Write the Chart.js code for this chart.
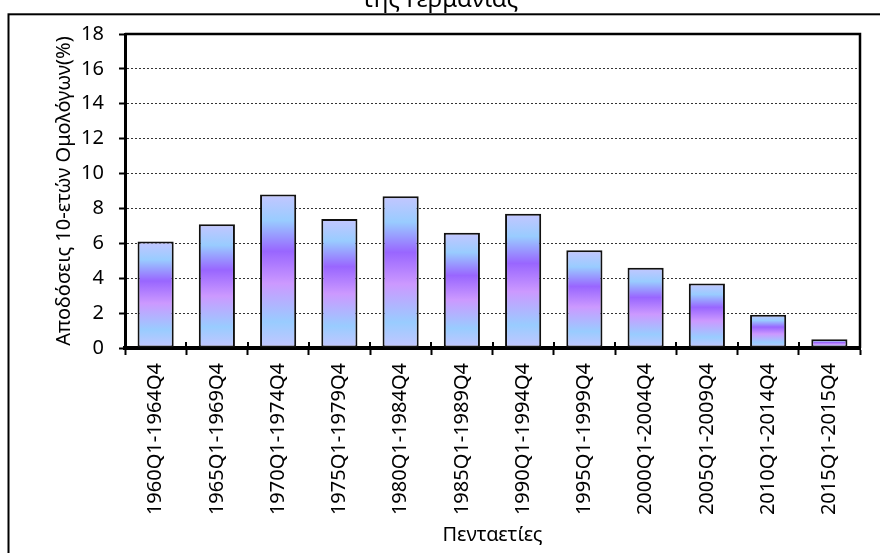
<!DOCTYPE html>
<html lang="el">
<head>
<meta charset="utf-8">
<title>Αποδόσεις 10-ετών Ομολόγων της Γερμανίας</title>
<script src="https://cdn.jsdelivr.net/npm/chart.js@4/dist/chart.umd.min.js"></script>
<style>
  html, body { margin: 0; padding: 0; background: #ffffff; }
  #wrap { width: 880px; height: 553px; }
</style>
</head>
<body>
<div id="wrap"><canvas id="chart" width="880" height="553"></canvas></div>
<script>
// Five-year periods and the average 10-year bond yield (%) for each
const periods = [
  '1960Q1-1964Q4', '1965Q1-1969Q4', '1970Q1-1974Q4', '1975Q1-1979Q4',
  '1980Q1-1984Q4', '1985Q1-1989Q4', '1990Q1-1994Q4', '1995Q1-1999Q4',
  '2000Q1-2004Q4', '2005Q1-2009Q4', '2010Q1-2014Q4', '2015Q1-2015Q4'
];
const yields = [6.1, 7.1, 8.8, 7.4, 8.7, 6.6, 7.7, 5.6, 4.6, 3.7, 1.9, 0.5];

// Value axis range
const yMin = 0;
const yMax = 18;
const yStep = 2;

// Text
const titleText = 'της Γερμανίας';
const xAxisTitle = 'Πενταετίες';
const yAxisTitle = 'Αποδόσεις 10-ετών Ομολόγων(%)';

const FONT = '"Noto Sans", "Open Sans", "DejaVu Sans", sans-serif';

// Vertical gradient for each bar, spanning from its top down to the baseline
function barGradient(context) {
  const chart = context.chart;
  const { ctx, chartArea, scales } = chart;
  if (!chartArea || context.type !== 'data') return '#9f8fff';
  const v = context.parsed ? context.parsed.y : yields[context.dataIndex];
  const yTop = scales.y.getPixelForValue(v);
  const yBase = scales.y.getPixelForValue(0);
  const g = ctx.createLinearGradient(0, yTop, 0, yBase);
  g.addColorStop(0.00, '#c4c6ff');
  g.addColorStop(0.17, '#99ccff');
  g.addColorStop(0.37, '#9966ff');
  g.addColorStop(0.58, '#cc99ff');
  g.addColorStop(0.83, '#99ccff');
  g.addColorStop(1.00, '#c4c6ff');
  return g;
}

// Page frame, title line, plot frame and the tick marks crossing the category axis
const framePlugin = {
  id: 'frame',
  beforeDraw(chart) {
    const { ctx } = chart;
    ctx.save();
    ctx.fillStyle = '#ffffff';
    ctx.fillRect(0, 0, chart.width, chart.height);
    ctx.strokeStyle = '#000000';
    ctx.lineWidth = 2;
    ctx.strokeRect(8.5, 14.3, chart.width + 20, chart.height + 20);
    ctx.fillStyle = '#000000';
    ctx.font = '24px ' + FONT;
    ctx.textAlign = 'center';
    ctx.textBaseline = 'alphabetic';
    ctx.fillText(titleText, 440, 7);
    ctx.restore();
  },
  afterDatasetsDraw(chart) {
    const { ctx, chartArea, scales } = chart;
    const x = scales.x;
    ctx.save();
    ctx.strokeStyle = '#000000';
    // top and right edges of the plot area
    ctx.lineWidth = 2.5;
    ctx.beginPath();
    ctx.moveTo(chartArea.left, chartArea.top);
    ctx.lineTo(chartArea.right, chartArea.top);
    ctx.lineTo(chartArea.right, chartArea.bottom);
    ctx.stroke();
    // category boundary ticks, upper part above the axis
    ctx.lineWidth = 2;
    for (let i = 0; i <= periods.length; i++) {
      const px = Math.round(x.getPixelForValue(i - 0.5));
      ctx.beginPath();
      ctx.moveTo(px, chartArea.bottom - 6);
      ctx.lineTo(px, chartArea.bottom);
      ctx.stroke();
    }
    ctx.restore();
  }
};

new Chart(document.getElementById('chart'), {
  type: 'bar',
  data: {
    labels: periods,
    datasets: [{
      data: yields,
      backgroundColor: barGradient,
      borderColor: '#111111',
      borderWidth: 2,
      borderSkipped: false,
      barPercentage: 0.59,
      categoryPercentage: 1.0
    }]
  },
  options: {
    responsive: false,
    animation: false,
    events: [],
    layout: { padding: { left: 10, top: 34, right: 20, bottom: 0 } },
    plugins: {
      legend: { display: false },
      tooltip: { enabled: false },
      title: { display: false }
    },
    scales: {
      x: {
        afterFit(scale) { scale.height = 205; },
        grid: {
          display: true,
          drawOnChartArea: false,
          drawTicks: true,
          tickLength: 7,
          tickWidth: 2,
          tickColor: '#000000',
          offset: true
        },
        border: { display: true, color: '#000000', width: 4 },
        ticks: {
          autoSkip: false,
          minRotation: 90,
          maxRotation: 90,
          padding: 8,
          color: '#000000',
          font: { family: FONT, size: 20 }
        },
        title: {
          display: true,
          text: xAxisTitle,
          color: '#000000',
          font: { family: FONT, size: 20 },
          padding: { top: 0, bottom: 6 }
        }
      },
      y: {
        min: yMin,
        max: yMax,
        afterFit(scale) { scale.width = 115; },
        grid: {
          display: true,
          drawOnChartArea: true,
          drawTicks: true,
          color: '#333333',
          lineWidth: 1,
          tickLength: 6,
          tickWidth: 2,
          tickColor: '#000000',
          tickBorderDash: []
        },
        border: { display: true, color: '#000000', width: 3, dash: [2, 2] },
        ticks: {
          stepSize: yStep,
          padding: 15,
          color: '#000000',
          font: { family: FONT, size: 20 }
        },
        title: {
          display: true,
          text: yAxisTitle,
          color: '#000000',
          font: { family: FONT, size: 20 },
          padding: { top: 42, bottom: 0 }
        }
      }
    }
  },
  plugins: [framePlugin]
});
</script>
</body>
</html>
